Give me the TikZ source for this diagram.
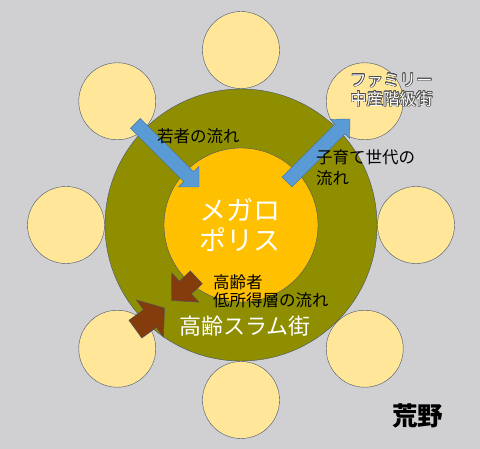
\documentclass[tikz,border=0pt]{standalone}
\usepackage{fontspec}
\setmainfont{Noto Sans CJK JP}
\usepackage[copies]{contour}
\contourlength{0.7pt}

\definecolor{bgray}{RGB}{208,207,210}
\definecolor{edgegray}{RGB}{68,84,106}
\definecolor{townyellow}{RGB}{255,230,153}
\definecolor{olivering}{RGB}{142,142,0}
\definecolor{metroyellow}{RGB}{255,192,0}
\definecolor{flowblue}{RGB}{91,155,213}
\definecolor{blueedge}{RGB}{65,113,156}
\definecolor{flowbrown}{RGB}{132,60,12}
\definecolor{glowgray}{RGB}{80,80,80}

% block arrow: style, tip, angle, length, shaft width, head width, head length
\newcommand{\blockarrow}[7]{%
  \begin{scope}[shift={#2},rotate=#3]
    \draw[#1] (0,0) -- (-#7,#6/2) -- (-#7,#5/2) -- (-#4,#5/2)
      -- (-#4,-#5/2) -- (-#7,-#5/2) -- (-#7,-#6/2) -- cycle;
  \end{scope}}

\begin{document}
\begin{tikzpicture}[x=1pt,y=-1pt,
    town/.style={circle,draw=edgegray,fill=townyellow,minimum size=77pt,inner sep=0pt,thin},
    ring/.style={circle,draw=edgegray,inner sep=0pt,thin},
    youngflow/.style={draw=blueedge,fill=flowblue,thin},
    oldflow/.style={draw=edgegray,fill=flowbrown,thin},
    flowtext/.style={inner sep=0pt,anchor=west,align=left,font=\fontsize{16.5}{21}\selectfont},
    ]
    \useasboundingbox (0,0) rectangle (480,449);
    \fill[bgray] (0,0) rectangle (480,449);
    \coordinate (C) at (241,225);
    \foreach \a [count=\i] in {90,45,...,-225}
        \node[town] (town\i) at ([shift={(\a:175)}]C) {};
    \node[ring,fill=olivering,minimum size=272pt] (slum) at (C) {};
    \node[ring,fill=metroyellow,minimum size=154pt] (metro) at (C) {};

    \blockarrow{youngflow}{(199,187)}{-45}{90}{14}{29}{14.5}
    \blockarrow{youngflow}{(350,119)}{45}{89}{14}{27}{14}
    \blockarrow{oldflow}{(171.5,300.5)}{223}{34}{17.5}{40}{19}
    \blockarrow{oldflow}{(164.5,308)}{36}{36}{22}{46}{18}

    \node[inner sep=0pt,align=center,text=white,font=\fontsize{27}{30}\selectfont]
        (metroname) at (240,225) {メガロ\\ポリス};
    \node[flowtext] (young) at (157,136.5) {若者の流れ};
    \node[flowtext] (family) at (316,167.5) {子育て世代の\\流れ};
    \node[flowtext,text=white,font=\fontsize{16.5}{19}\selectfont] (middle) at (350,90.5)
        {\contour{glowgray}{ファミリー}\\\contour{glowgray}{中産階級街}};
    \node[flowtext,font=\fontsize{16.5}{18}\selectfont] (elder) at (213,291)
        {高齢者\\低所得層の流れ};
    \node[flowtext,text=white,font=\fontsize{22}{26}\selectfont] (slumname) at (179,326) {高齢スラム街};
    \node[flowtext,font=\fontsize{25.5}{30}\selectfont\bfseries] (wild) at (392,416) {荒野};
\end{tikzpicture}
\end{document}
